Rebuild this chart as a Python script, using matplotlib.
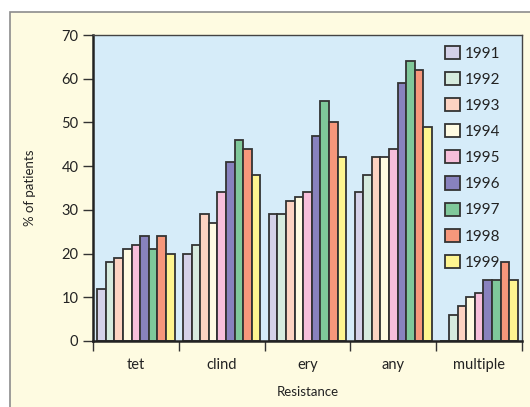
import matplotlib.pyplot as plt
import numpy as np
from matplotlib.patches import Rectangle

plt.rcParams["font.family"] = ["Lato", "DejaVu Sans"]

drugs = ["tet", "clind", "ery", "any", "multiple"]
years = ["1991", "1992", "1993", "1994", "1995", "1996", "1997", "1998", "1999"]
# % of patients resistant, one row per year (columns follow drugs)
pct = [
    [12, 20, 29, 34, 0],
    [18, 22, 29, 38, 6],
    [19, 29, 32, 42, 8],
    [21, 27, 33, 42, 10],
    [22, 34, 34, 44, 11],
    [24, 41, 47, 59, 14],
    [21, 46, 55, 64, 14],
    [24, 44, 50, 62, 18],
    [20, 38, 42, 49, 14],
]
colors = ["#D4D1E8", "#D6EBDE", "#FDD3C2", "#FFFBE2", "#F7BFDB",
          "#8882BE", "#7FC89A", "#F6977B", "#FEF590"]

fig = plt.figure(figsize=(5.30, 4.07), dpi=100)
fig.patch.set_facecolor("white")
# cream panel behind the chart
fig.patches.append(Rectangle((10 / 530, -0.1), 1.2, 1 - 12 / 407 + 0.1,
                             transform=fig.transFigure, facecolor="#FEFBE1",
                             edgecolor="#8C8C8C", linewidth=1.2, zorder=-1))

ax = fig.add_axes([93 / 530, 1 - 341 / 407, (522 - 93) / 530, (341 - 35) / 407])
ax.set_facecolor("#D6ECF9")

x = np.arange(len(drugs))
w = 0.1
for i, (yr, vals) in enumerate(zip(years, pct)):
    ax.bar(x - 0.4 + i * w, vals, width=w, color=colors[i], edgecolor="#333333",
           linewidth=1.3, label=yr, zorder=2)

ax.set_xlim(-0.5, len(drugs) - 0.5)
ax.set_ylim(0, 70)
ax.set_yticks(range(0, 71, 10))
ax.set_xticks(np.arange(-0.5, len(drugs)), minor=False)
ax.set_xticklabels([])
ax.set_xticks(x, minor=True)
ax.set_xticklabels(drugs, minor=True)
ax.tick_params(axis="x", which="minor", length=0, pad=12, labelsize=10.5, colors="#222222")
ax.tick_params(axis="x", which="major", length=7, width=1, color="#333333")
ax.tick_params(axis="y", length=7, width=1, labelsize=10.5, color="#333333", labelcolor="#222222")

for side in ["left", "bottom"]:
    ax.spines[side].set_linewidth(1.8)
    ax.spines[side].set_color("#222222")
for side in ["top", "right"]:
    ax.spines[side].set_linewidth(1)
    ax.spines[side].set_color("#444444")

ax.set_ylabel("% of patients", fontsize=9.5, color="#222222", labelpad=18)
ax.set_xlabel("Resistance", fontsize=9.5, color="#222222", labelpad=10)

leg = ax.legend(loc="upper right", frameon=False, fontsize=11, handlelength=0.95,
                handleheight=0.95, handletextpad=0.35, labelspacing=0.74,
                borderaxespad=0.3, bbox_to_anchor=(0.975, 1.0))
for t in leg.get_texts():
    t.set_color("#222222")

fig.savefig("out.png", dpi=100)
